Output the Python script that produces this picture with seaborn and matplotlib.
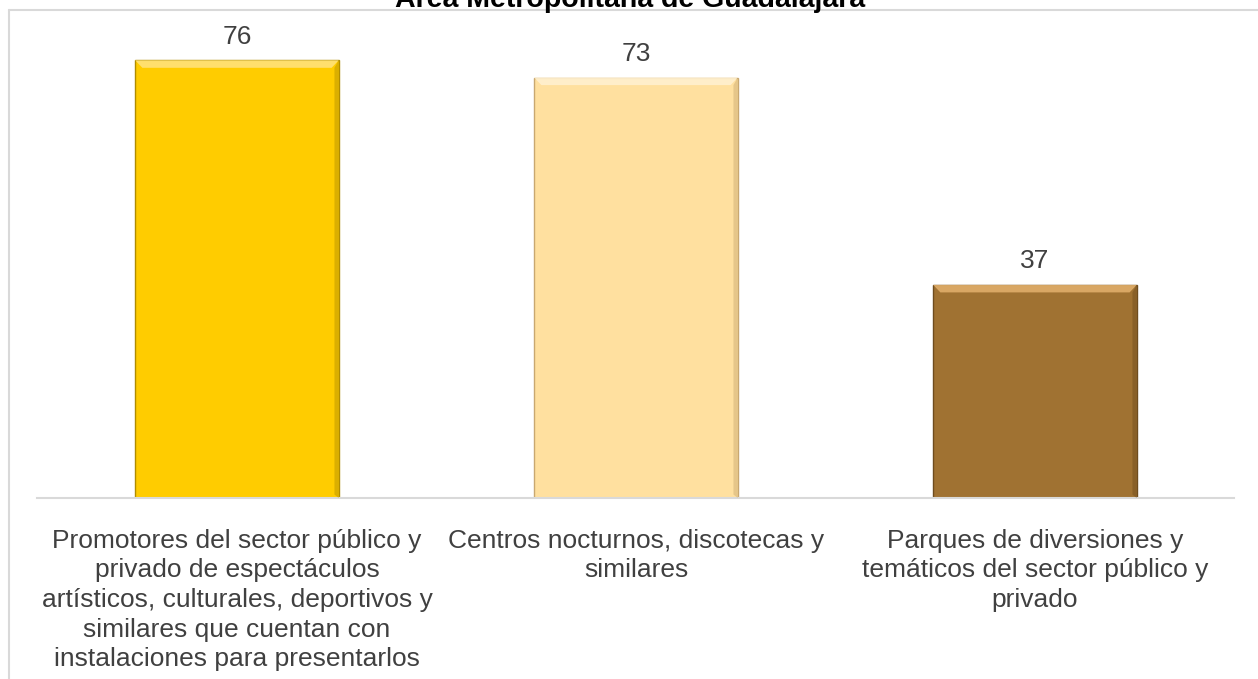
import numpy as np
import pandas as pd
import matplotlib
matplotlib.use('Agg')
import matplotlib.pyplot as plt
from matplotlib.patches import Polygon
from matplotlib.lines import Line2D
import seaborn as sns

# chart data
categories = [
    'Promotores del sector público y\nprivado de espectáculos\nartísticos, culturales, deportivos y\nsimilares que cuentan con\ninstalaciones para presentarlos',
    'Centros nocturnos, discotecas y\nsimilares',
    'Parques de diversiones y\ntemáticos del sector público y\nprivado',
]
values = [76, 73, 37]
bar_colors = ['#FFCC00', '#FFE09F', '#A07232']
edge_colors = ['#B08C00', '#C9A870', '#6E4C1E']
top_colors = ['#FFE27A', '#FFF0CF', '#E0AE6A']
title = 'Área Metropolitana de Guadalajara'

sns.set_style('white')
plt.rcParams['font.family'] = ['Liberation Sans', 'DejaVu Sans']

df = pd.DataFrame({'cat': categories, 'val': values})

fig = plt.figure(figsize=(12.58, 6.79), dpi=100)
ax = fig.add_axes([0.0298, 1 - 498 / 679, 0.9515, (498 - 20) / 679])

sns.barplot(data=df, x='cat', y='val', hue='cat', palette=bar_colors,
            width=0.51, legend=False, ax=ax, saturation=1)

ax.set_xlim(-0.5, 2.5)
ax.set_ylim(0, 83)

# bevel look on each bar
for patch, ec, tc in zip(ax.patches, edge_colors, top_colors):
    patch.set_edgecolor(ec)
    patch.set_linewidth(1.0)
    x0 = patch.get_x()
    w = patch.get_width()
    h = patch.get_height()
    dx = w * 0.035
    dy = 1.3
    ax.add_patch(Polygon([[x0, h], [x0 + w, h], [x0 + w - dx, h - dy], [x0 + dx, h - dy]],
                         closed=True, facecolor=tc, edgecolor='none', alpha=0.9, zorder=3))
    ax.add_patch(Polygon([[x0 + w, h], [x0 + w, 0], [x0 + w - dx * 0.6, 0.6], [x0 + w - dx * 0.6, h - dy]],
                         closed=True, facecolor=ec, edgecolor='none', alpha=0.45, zorder=3))
    ax.text(x0 + w / 2, h + 2.0, str(int(h)), ha='center', va='bottom',
            fontsize=19, color='#404040')

ax.set_xlabel('')
ax.set_ylabel('')
ax.set_yticks([])
ax.tick_params(axis='x', length=0, pad=22)
ax.set_xticks(range(len(categories)))
ax.set_xticklabels(categories, fontsize=19, color='#404040', linespacing=1.3, va='top')
for s in ['top', 'right', 'left']:
    ax.spines[s].set_visible(False)
ax.spines['bottom'].set_color('#D9D9D9')
ax.spines['bottom'].set_linewidth(1.5)

# outer chart frame (partly cropped)
fig.add_artist(Line2D([9 / 1258, 1], [1 - 9.5 / 679, 1 - 9.5 / 679], color='#D9D9D9', lw=1.5))
fig.add_artist(Line2D([9 / 1258, 9 / 1258], [0, 1 - 9.5 / 679], color='#D9D9D9', lw=1.5))

fig.text(630 / 1258, 1 - 7 / 679, title, ha='center', va='baseline',
         fontsize=20.5, fontweight='bold', color='black')

fig.savefig('out.png', dpi=100)
